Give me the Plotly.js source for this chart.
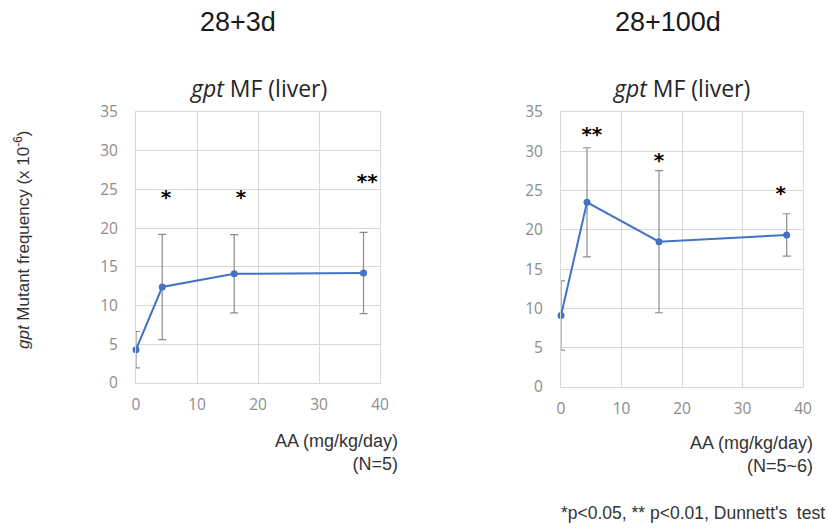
<!DOCTYPE html>
<html>
<head>
<meta charset="utf-8">
<script src="https://cdn.plot.ly/plotly-3.0.1.min.js"></script>
<style>html,body{margin:0;padding:0;background:#fff;}#chart{width:828px;height:528px;}</style>
</head>
<body>
<div id="chart"></div>
<script>
// ---- data ----
const dose3 = [0, 4.3, 16.1, 37.3];
const mf3 = [4.3, 12.4, 14.1, 14.2];
const sd3 = [2.35, 6.8, 5.05, 5.25];
const starX3 = [4.9, 17.2, 37.9];
const starY3 = [23.8, 23.8, 25.8];
const starText3 = ['*', '*', '**'];

const dose100 = [0, 4.3, 16.2, 37.3];
const mf100 = [9.1, 23.5, 18.5, 19.35];
const sd100 = [4.4, 6.95, 9.05, 2.7];
const starX100 = [5.1, 16.2, 36.3];
const starY100 = [31.9, 28.6, 24.4];
const starText100 = ['**', '*', '*'];

const xTicks = [0, 10, 20, 30, 40];
const yTicks = [0, 5, 10, 15, 20, 25, 30, 35];
const groupTitles = ['28+3d', '28+100d'];
const panelTitle = '<i>gpt</i> MF (liver)';
const yLabel = '<i>gpt</i> Mutant frequency (x 10<sup>-6</sup>)';
const xLabels = ['AA (mg/kg/day)<br>(N=5)', 'AA (mg/kg/day)<br>(N=5~6)'];
const footnote = "*p<0.05, ** p<0.01, Dunnett's  test";

// ---- helpers ----
const W = 828, H = 528;
const px = x => x / W;
const py = y => 1 - y / H;
const blue = '#4472C4';

function series(x, y, sd, xa, ya) {
  return [
    {x: x, y: y, xaxis: xa, yaxis: ya, type: 'scatter', mode: 'lines',
     line: {color: blue, width: 2}, cliponaxis: true, hoverinfo: 'skip',
     error_y: {type: 'data', array: sd, visible: true, color: '#8c8c8c', thickness: 1.2, width: 4}},
    {x: x, y: y, xaxis: xa, yaxis: ya, type: 'scatter', mode: 'markers',
     marker: {color: blue, size: 7}, cliponaxis: false, hoverinfo: 'skip'}
  ];
}
function stars(x, y, t, xa, ya) {
  return {x: x, y: y, text: t, xaxis: xa, yaxis: ya, type: 'scatter', mode: 'text',
    textposition: 'middle center', cliponaxis: false, hoverinfo: 'skip',
    textfont: {family: 'DejaVu Sans', size: 20, color: '#000', weight: 'bold'}};
}

const data = [
  ...series(dose3, mf3, sd3, 'x', 'y'),
  stars(starX3, starY3, starText3, 'x', 'y'),
  ...series(dose100, mf100, sd100, 'x2', 'y2'),
  stars(starX100, starY100, starText100, 'x2', 'y2')
];

const tickFont = {family: 'Open Sans', size: 15.5, color: '#8c8c8c'};
function xax(dom, anchor) {
  return {domain: dom, anchor: anchor, range: [0, 40], tickvals: xTicks, ticktext: xTicks.map(String),
    showgrid: true, gridcolor: '#d9d9d9', gridwidth: 1, zeroline: false,
    showline: true, linecolor: '#d9d9d9', linewidth: 1, mirror: true,
    ticks: '', tickfont: tickFont, ticklabelstandoff: 7, fixedrange: true};
}
function yax(dom, anchor) {
  return {domain: dom, anchor: anchor, range: [0, 35], tickvals: yTicks, ticktext: yTicks.map(String),
    showgrid: true, gridcolor: '#d9d9d9', gridwidth: 1, zeroline: false,
    showline: true, linecolor: '#d9d9d9', linewidth: 1, mirror: true,
    ticks: '', tickfont: tickFont, ticklabelstandoff: 14, fixedrange: true};
}

const ann = (text, x, y, size, opts) => Object.assign({
  text: text, xref: 'paper', yref: 'paper', x: px(x), y: py(y), showarrow: false,
  xanchor: 'center', yanchor: 'middle',
  font: {family: 'Liberation Sans, Arial', size: size, color: '#1a1a1a'}
}, opts || {});

const layout = {
  width: W, height: H, margin: {l: 0, r: 0, t: 0, b: 0},
  paper_bgcolor: '#fff', plot_bgcolor: '#fff', showlegend: false,
  xaxis: xax([px(136), px(380)], 'y'),
  yaxis: yax([py(383), py(112)], 'x'),
  xaxis2: xax([px(561), px(803)], 'y2'),
  yaxis2: yax([py(387), py(112)], 'x2'),
  annotations: [
    ann(groupTitles[0], 238, 22, 27),
    ann(groupTitles[1], 668, 22, 27),
    ann(panelTitle, 258, 88, 23, {font: {family: 'Open Sans', size: 23, color: '#262626'}}),
    ann(panelTitle, 681, 88, 23, {font: {family: 'Open Sans', size: 23, color: '#262626'}}),
    ann(yLabel, 22, 240, 17, {textangle: -90, font: {family: 'Liberation Sans, Arial', size: 17, color: '#333'}}),
    ann(xLabels[0], 400, 452, 18, {xanchor: 'right', align: 'right', font: {family: 'Liberation Sans, Arial', size: 18, color: '#333'}}),
    ann(xLabels[1], 815, 454, 18, {xanchor: 'right', align: 'right', font: {family: 'Liberation Sans, Arial', size: 18, color: '#333'}}),
    ann(footnote, 827, 513, 17.5, {xanchor: 'right', align: 'right', font: {family: 'Liberation Sans, Arial', size: 17.5, color: '#333'}})
  ]
};

Plotly.newPlot('chart', data, layout, {staticPlot: true, displayModeBar: false});
</script>
</body>
</html>
